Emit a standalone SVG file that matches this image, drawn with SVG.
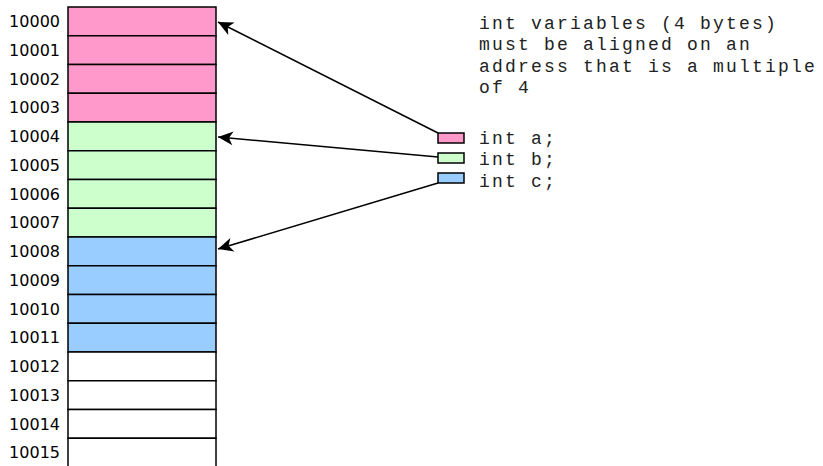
<svg xmlns="http://www.w3.org/2000/svg" width="823" height="466" viewBox="0 0 823 466">
<style>
.cell{stroke:#000;stroke-width:1.5}
.a{fill:#ff99cc}.b{fill:#ccffcc}.c{fill:#99ccff}.e{fill:#fff}
.lbl{font-family:"DejaVu Sans",sans-serif;font-size:16px;fill:#000}
.mono{font-family:"Liberation Mono",monospace;font-size:18px;letter-spacing:2.2px;fill:#222}
.conn{stroke:#000;stroke-width:1.5;fill:none;marker-end:url(#arr)}
</style>
<defs>
<marker id="arr" markerUnits="userSpaceOnUse" viewBox="-16 -8 18 16" markerWidth="18" markerHeight="16" refX="0" refY="0" orient="auto">
<path d="M0,0 L-15,-7 L-11,0 L-15,7 Z" fill="#000"/>
</marker>
</defs>
<rect width="823" height="466" fill="#fff"/>
<g id="memory">
<g id="m10000"><rect class="cell a" x="68" y="7" width="148" height="28.75"/><text class="lbl" x="60" y="27" text-anchor="end">10000</text></g>
<g id="m10001"><rect class="cell a" x="68" y="35.75" width="148" height="28.75"/><text class="lbl" x="60" y="55.75" text-anchor="end">10001</text></g>
<g id="m10002"><rect class="cell a" x="68" y="64.5" width="148" height="28.75"/><text class="lbl" x="60" y="84.5" text-anchor="end">10002</text></g>
<g id="m10003"><rect class="cell a" x="68" y="93.25" width="148" height="28.75"/><text class="lbl" x="60" y="113.25" text-anchor="end">10003</text></g>
<g id="m10004"><rect class="cell b" x="68" y="122" width="148" height="28.75"/><text class="lbl" x="60" y="142" text-anchor="end">10004</text></g>
<g id="m10005"><rect class="cell b" x="68" y="150.75" width="148" height="28.75"/><text class="lbl" x="60" y="170.75" text-anchor="end">10005</text></g>
<g id="m10006"><rect class="cell b" x="68" y="179.5" width="148" height="28.75"/><text class="lbl" x="60" y="199.5" text-anchor="end">10006</text></g>
<g id="m10007"><rect class="cell b" x="68" y="208.25" width="148" height="28.75"/><text class="lbl" x="60" y="228.25" text-anchor="end">10007</text></g>
<g id="m10008"><rect class="cell c" x="68" y="237" width="148" height="28.75"/><text class="lbl" x="60" y="257" text-anchor="end">10008</text></g>
<g id="m10009"><rect class="cell c" x="68" y="265.75" width="148" height="28.75"/><text class="lbl" x="60" y="285.75" text-anchor="end">10009</text></g>
<g id="m10010"><rect class="cell c" x="68" y="294.5" width="148" height="28.75"/><text class="lbl" x="60" y="314.5" text-anchor="end">10010</text></g>
<g id="m10011"><rect class="cell c" x="68" y="323.25" width="148" height="28.75"/><text class="lbl" x="60" y="343.25" text-anchor="end">10011</text></g>
<g id="m10012"><rect class="cell e" x="68" y="352" width="148" height="28.75"/><text class="lbl" x="60" y="372" text-anchor="end">10012</text></g>
<g id="m10013"><rect class="cell e" x="68" y="380.75" width="148" height="28.75"/><text class="lbl" x="60" y="400.75" text-anchor="end">10013</text></g>
<g id="m10014"><rect class="cell e" x="68" y="409.5" width="148" height="28.75"/><text class="lbl" x="60" y="429.5" text-anchor="end">10014</text></g>
<g id="m10015"><rect class="cell e" x="68" y="438.25" width="148" height="40"/><text class="lbl" x="60" y="458.25" text-anchor="end">10015</text></g>
</g>
<g id="note">
<text class="mono" x="479" y="28.5">int variables (4 bytes)</text>
<text class="mono" x="479" y="50">must be aligned on an</text>
<text class="mono" x="479" y="71.5">address that is a multiple</text>
<text class="mono" x="479" y="93">of 4</text>
</g>
<g id="var-a"><rect class="cell a" x="438" y="133" width="26" height="10"/><text class="mono" x="479" y="143.5">int a;</text></g>
<g id="var-b"><rect class="cell b" x="438" y="153" width="26" height="10"/><text class="mono" x="479" y="165">int b;</text></g>
<g id="var-c"><rect class="cell c" x="438" y="173" width="26" height="10"/><text class="mono" x="479" y="186.5">int c;</text></g>
<g id="connectors">
<path class="conn" d="M438,133 L218,22"/>
<path class="conn" d="M438,157 L218,137"/>
<path class="conn" d="M438,183 L218,249"/>
</g>
</svg>
